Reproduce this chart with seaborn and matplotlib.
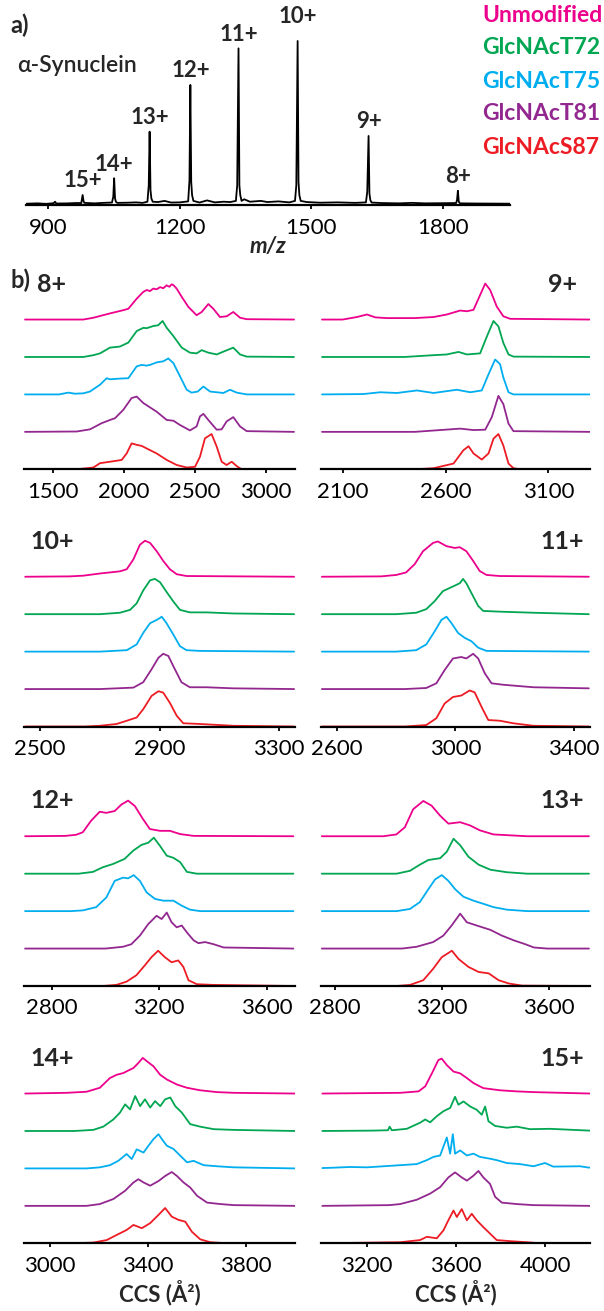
"""
Native MS and CCS distributions of alpha-synuclein and its O-GlcNAc variants
"""

import matplotlib
matplotlib.use("Agg")
import matplotlib.pyplot as plt
import seaborn as sns
import pandas as pd

sns.set_style("ticks")
plt.rcParams["font.family"] = ["Lato", "DejaVu Sans"]

# ---- data -------------------------------------------------------------
variants = ["Unmodified", "GlcNAcT72", "GlcNAcT75", "GlcNAcT81", "GlcNAcS87"]
variant_colors = ["#EC008C", "#00A651", "#00AEEF", "#92278F", "#ED1C24"]

# mass spectrum (m/z, relative intensity)
ms_points = [
    (850, 0.8), (875, 1.0), (895, 0.7), (912, 1.1), (915, 2.0), (918, 0.9),
    (945, 1.0), (962, 1.2), (975, 1.2), (978, 6.1), (980, 2.5), (982, 1.3),
    (1005, 1.0), (1025, 1.3), (1045, 1.5), (1048, 5.0), (1050, 16.3), (1052, 4.0),
    (1054, 2.0), (1057, 1.3), (1080, 1.4), (1100, 1.6), (1115, 1.3), (1126, 2.0),
    (1129, 12.0), (1131, 44.7), (1133, 9.0), (1135, 4.0), (1138, 2.0), (1150, 1.8),
    (1165, 2.5), (1180, 1.5), (1200, 1.6), (1219, 2.2), (1222, 15.0), (1224, 73.2),
    (1226, 14.0), (1228, 6.0), (1231, 2.5), (1245, 1.5), (1262, 2.8), (1280, 1.6),
    (1300, 2.0), (1315, 1.8), (1328, 2.5), (1331, 12.0), (1334, 95.5), (1336, 12.0),
    (1338, 6.0), (1341, 2.5), (1347, 3.5), (1360, 2.0), (1385, 2.5), (1400, 1.8),
    (1425, 2.2), (1450, 1.6), (1463, 2.5), (1466, 12.0), (1469, 100.0), (1471, 14.0),
    (1473, 6.0), (1476, 2.5), (1490, 1.8), (1520, 1.4), (1560, 1.6), (1600, 1.3),
    (1625, 1.6), (1628, 8.0), (1631, 42.1), (1633, 7.0), (1635, 3.0), (1638, 1.5),
    (1660, 1.2), (1700, 1.0), (1730, 1.3), (1760, 1.0), (1800, 1.1), (1831, 1.2),
    (1833, 3.0), (1835, 8.7), (1837, 2.0), (1840, 1.0), (1880, 0.9), (1955, 0.8),
]
charge_labels = ["15+", "14+", "13+", "12+", "11+", "10+", "9+", "8+"]
charge_mz = [978, 1050, 1131, 1224, 1334, 1469, 1631, 1835]
charge_height = [6.1, 16.3, 44.7, 73.2, 95.5, 100.0, 42.1, 8.7]

# CCS distributions (CCS in A^2, relative intensity 0-100), one dict per charge state
ccs_8 = {
    "Unmodified": [(1300, 0), (1712, 0), (1783, 5), (1900, 17), (1994, 26), (2030, 30), (2089, 58),
                   (2136, 77), (2160, 82), (2183, 79), (2206, 86), (2230, 84), (2254, 90), (2277, 87),
                   (2300, 95), (2320, 91), (2336, 98), (2350, 95), (2371, 86), (2407, 63), (2454, 35),
                   (2512, 12), (2548, 21), (2595, 43), (2630, 30), (2677, 7), (2724, 9), (2771, 21),
                   (2819, 5), (2866, 1), (3200, 0)],
    "GlcNAcT72": [(1300, 0), (1712, 0), (1783, 5), (1830, 10), (1900, 26), (1971, 29), (2030, 40),
                  (2089, 72), (2136, 81), (2160, 80), (2206, 86), (2240, 88), (2272, 100), (2290, 88),
                  (2301, 81), (2348, 58), (2407, 26), (2465, 12), (2512, 10), (2548, 19), (2595, 12),
                  (2654, 7), (2696, 14), (2771, 26), (2819, 7), (2866, 1), (3200, 0)],
    "GlcNAcT75": [(1300, 0), (1540, 0), (1606, 5), (1653, 2), (1712, 3), (1759, 8), (1830, 27),
                  (1877, 45), (1900, 42), (1936, 43), (1971, 44), (2030, 45), (2089, 78), (2124, 82),
                  (2159, 80), (2183, 82), (2230, 89), (2277, 92), (2312, 100), (2348, 87), (2395, 50),
                  (2442, 13), (2477, 5), (2520, 8), (2560, 22), (2607, 8), (2701, 4), (2748, 13),
                  (2795, 5), (2866, 0), (3200, 0)],
    "GlcNAcT81": [(1300, 0), (1665, 1), (1759, 7), (1841, 24), (1900, 33), (1936, 38), (1994, 61),
                  (2053, 94), (2089, 98), (2136, 80), (2183, 68), (2230, 56), (2301, 33), (2348, 31),
                  (2395, 19), (2465, 4), (2512, 15), (2536, 43), (2560, 50), (2595, 33), (2654, 6),
                  (2689, 7), (2724, 29), (2771, 41), (2819, 15), (2866, 2), (3200, 0)],
    "GlcNAcS87": [(1300, 0), (1665, 0), (1783, 5), (1830, 17), (1900, 21), (1983, 26), (2018, 44),
                  (2053, 72), (2089, 68), (2124, 65), (2159, 58), (2230, 44), (2301, 26), (2371, 12),
                  (2442, 5), (2501, 7), (2536, 35), (2571, 86), (2618, 98), (2654, 63), (2689, 21),
                  (2724, 12), (2760, 21), (2795, 9), (2830, 0), (3200, 0)],
}
ccs_9 = {
    "Unmodified": [(2000, 0), (2100, 0), (2170, 7), (2218, 14), (2259, 6), (2315, 4), (2450, 4),
                   (2542, 7), (2606, 14), (2671, 25), (2704, 23), (2736, 27), (2768, 68), (2793, 100),
                   (2817, 82), (2849, 36), (2881, 9), (2914, 2), (3300, 0)],
    "GlcNAcT72": [(2000, 0), (2400, 0), (2542, 5), (2606, 7), (2663, 14), (2704, 7), (2768, 10),
                  (2801, 57), (2833, 100), (2857, 85), (2881, 39), (2906, 7), (2930, 1), (3300, 0)],
    "GlcNAcT75": [(2000, 0), (2200, 1), (2283, 6), (2364, 4), (2461, 11), (2542, 4), (2655, 13),
                  (2720, 6), (2776, 11), (2809, 56), (2841, 97), (2865, 84), (2881, 47), (2906, 6),
                  (2930, 0), (3300, 0)],
    "GlcNAcT81": [(2000, 0), (2450, 0), (2574, 5), (2671, 9), (2736, 5), (2793, 6), (2825, 41),
                  (2857, 100), (2881, 77), (2906, 23), (2930, 2), (3300, 0)],
    "GlcNAcS87": [(2000, 0), (2450, 0), (2542, 3), (2639, 16), (2687, 53), (2712, 64), (2736, 44),
                  (2776, 27), (2809, 44), (2833, 85), (2857, 98), (2881, 66), (2906, 16), (2930, 3),
                  (2962, 0), (3300, 0)],
}
ccs_10 = {
    "Unmodified": [(2450, 0), (2600, 1), (2645, 3), (2700, 9), (2767, 15), (2790, 21), (2812, 48),
                   (2834, 89), (2851, 100), (2868, 94), (2890, 71), (2912, 44), (2934, 21), (2957, 7),
                   (2990, 2), (3350, 0)],
    "GlcNAcT72": [(2450, 0), (2700, 0), (2767, 4), (2801, 12), (2823, 30), (2845, 66), (2868, 94),
                  (2884, 98), (2901, 89), (2923, 62), (2946, 35), (2968, 12), (3001, 5), (3057, 5),
                  (3146, 2), (3350, 0)],
    "GlcNAcT75": [(2450, 0), (2700, 0), (2790, 4), (2823, 20), (2845, 52), (2868, 79), (2890, 88),
                  (2900, 93), (2907, 97), (2923, 79), (2946, 47), (2968, 15), (2990, 4), (3035, 2),
                  (3350, 0)],
    "GlcNAcT81": [(2450, 0), (2700, 0), (2812, 4), (2845, 19), (2873, 55), (2896, 87), (2912, 98),
                  (2929, 92), (2951, 55), (2973, 19), (3001, 5), (3057, 5), (3146, 2), (3350, 0)],
    "GlcNAcS87": [(2450, 0), (2650, 0), (2700, 2), (2756, 7), (2790, 16), (2823, 25), (2845, 48),
                  (2873, 85), (2896, 98), (2912, 94), (2934, 66), (2957, 30), (2979, 9), (3035, 7),
                  (3079, 5), (3146, 2), (3350, 0)],
}
ccs_11 = {
    "Unmodified": [(2550, 0), (2750, 1), (2801, 5), (2834, 12), (2863, 35), (2891, 71), (2925, 94),
                   (2941, 98), (2970, 85), (2998, 80), (3015, 82), (3037, 71), (3060, 44), (3082, 16),
                   (3105, 5), (3150, 2), (3450, 0)],
    "GlcNAcT72": [(2550, 0), (2800, 0), (2868, 4), (2902, 14), (2930, 36), (2958, 64), (2992, 77),
                  (3015, 86), (3026, 98), (3037, 86), (3054, 59), (3077, 23), (3094, 9), (3150, 7),
                  (3263, 4), (3450, 0)],
    "GlcNAcT75": [(2550, 0), (2800, 0), (2868, 4), (2902, 20), (2930, 56), (2953, 88), (2970, 97),
                  (2987, 79), (3009, 52), (3032, 38), (3054, 29), (3077, 11), (3105, 2), (3450, 0)],
    "GlcNAcT81": [(2550, 0), (2830, 0), (2902, 3), (2936, 16), (2964, 53), (2992, 85), (3020, 89),
                  (3037, 85), (3060, 98), (3077, 85), (3099, 44), (3122, 16), (3161, 12), (3263, 5),
                  (3450, 2)],
    "GlcNAcS87": [(2550, 0), (2830, 0), (2902, 4), (2936, 23), (2964, 64), (2992, 82), (3020, 86),
                  (3048, 100), (3065, 95), (3088, 55), (3111, 18), (3150, 16), (3195, 9), (3263, 2),
                  (3450, 0)],
}
ccs_12 = {
    "Unmodified": [(2700, 0), (2850, 1), (2890, 4), (2915, 11), (2946, 43), (2978, 68), (3003, 65),
                   (3034, 70), (3059, 88), (3084, 99), (3109, 84), (3140, 47), (3165, 20), (3203, 15),
                   (3240, 15), (3278, 6), (3328, 1), (3700, 0)],
    "GlcNAcT72": [(2700, 0), (2900, 0), (2953, 5), (2990, 18), (3028, 27), (3071, 41), (3103, 64),
                  (3134, 80), (3159, 86), (3180, 100), (3203, 77), (3228, 50), (3253, 44), (3278, 32),
                  (3303, 5), (3340, 0), (3700, 0)],
    "GlcNAcT75": [(2700, 0), (2870, 0), (2915, 2), (2965, 11), (3003, 38), (3034, 84), (3065, 93),
                  (3084, 91), (3105, 100), (3128, 84), (3153, 52), (3184, 34), (3215, 29), (3253, 29),
                  (3284, 15), (3315, 4), (3353, 0), (3700, 0)],
    "GlcNAcT81": [(2700, 0), (3000, 0), (3065, 5), (3096, 12), (3128, 36), (3159, 68), (3190, 91),
                  (3209, 82), (3228, 100), (3246, 73), (3265, 59), (3284, 64), (3303, 45), (3328, 23),
                  (3346, 15), (3371, 18), (3403, 12), (3440, 3), (3700, 0)],
    "GlcNAcS87": [(2700, 0), (2990, 0), (3040, 3), (3078, 12), (3115, 30), (3146, 57), (3171, 80),
                  (3196, 98), (3221, 80), (3246, 66), (3271, 71), (3290, 53), (3309, 16), (3340, 5),
                  (3403, 3), (3700, 0)],
}
ccs_13 = {
    "Unmodified": [(2750, 0), (2980, 0), (3029, 5), (3061, 25), (3092, 75), (3130, 98), (3161, 85),
                   (3193, 57), (3224, 35), (3268, 39), (3305, 30), (3343, 16), (3393, 5), (3443, 3),
                   (3519, 0), (3750, 0)],
    "GlcNAcT72": [(2750, 0), (3030, 0), (3080, 8), (3117, 25), (3149, 38), (3193, 43), (3218, 61),
                  (3243, 97), (3268, 79), (3299, 47), (3337, 25), (3381, 11), (3443, 4), (3519, 0),
                  (3750, 0)],
    "GlcNAcT75": [(2750, 0), (3030, 0), (3080, 6), (3117, 25), (3149, 61), (3174, 88), (3199, 100),
                  (3224, 84), (3249, 61), (3280, 40), (3318, 29), (3356, 20), (3393, 11), (3443, 4),
                  (3519, 0), (3750, 0)],
    "GlcNAcT81": [(2750, 0), (3050, 0), (3105, 5), (3167, 18), (3205, 36), (3236, 64), (3268, 97),
                  (3293, 73), (3330, 64), (3381, 52), (3424, 36), (3468, 23), (3512, 12), (3544, 3),
                  (3594, 0), (3750, 0)],
    "GlcNAcS87": [(2750, 0), (3030, 0), (3080, 3), (3130, 16), (3167, 48), (3199, 80), (3237, 98),
                  (3262, 75), (3299, 53), (3337, 39), (3375, 35), (3412, 16), (3450, 7), (3500, 1),
                  (3750, 0)],
}
ccs_14 = {
    "Unmodified": [(2900, 0), (3068, 2), (3150, 5), (3204, 16), (3245, 43), (3272, 52), (3300, 57),
                   (3320, 64), (3341, 71), (3361, 85), (3379, 99), (3395, 90), (3422, 76), (3450, 52),
                   (3477, 39), (3518, 25), (3559, 16), (3613, 9), (3681, 4), (3750, 2), (4000, 0)],
    "GlcNAcT72": [(2900, 0), (3100, 0), (3177, 3), (3218, 12), (3259, 32), (3286, 51), (3307, 74),
                  (3327, 60), (3348, 97), (3368, 69), (3388, 88), (3409, 65), (3429, 83), (3450, 69),
                  (3470, 88), (3491, 93), (3511, 69), (3538, 51), (3572, 19), (3613, 12), (3668, 5),
                  (3750, 3), (4000, 0)],
    "GlcNAcT75": [(2900, 0), (3150, 0), (3204, 3), (3245, 9), (3279, 21), (3313, 40), (3334, 26),
                  (3354, 53), (3382, 44), (3402, 63), (3422, 81), (3443, 95), (3457, 81), (3477, 63),
                  (3504, 54), (3532, 35), (3559, 17), (3586, 21), (3627, 9), (3681, 6), (3750, 3),
                  (4000, 0)],
    "GlcNAcT81": [(2900, 0), (3150, 0), (3204, 5), (3259, 19), (3307, 42), (3341, 65), (3361, 74),
                  (3382, 65), (3409, 56), (3443, 69), (3470, 83), (3497, 94), (3518, 83), (3545, 65),
                  (3572, 51), (3600, 28), (3641, 9), (3695, 5), (3750, 2), (4000, 0)],
    "GlcNAcS87": [(2900, 0), (3100, 0), (3177, 2), (3232, 9), (3272, 23), (3313, 37), (3341, 51),
                  (3375, 42), (3409, 56), (3443, 79), (3470, 98), (3497, 74), (3525, 65), (3552, 60),
                  (3579, 32), (3613, 11), (3654, 3), (3722, 0), (4000, 0)],
}
ccs_15 = {
    "Unmodified": [(3000, 0), (3350, 2), (3432, 6), (3462, 20), (3492, 56), (3521, 93), (3536, 97),
                   (3559, 79), (3589, 61), (3619, 56), (3649, 43), (3679, 29), (3723, 15), (3798, 9),
                   (3873, 6), (3948, 4), (4200, 0)],
    "GlcNAcT72": [(3000, 0), (3222, 1), (3295, 2), (3302, 12), (3312, 2), (3379, 6), (3439, 23),
                  (3462, 32), (3484, 24), (3514, 41), (3544, 55), (3574, 64), (3596, 95), (3611, 73),
                  (3634, 82), (3664, 68), (3693, 59), (3716, 45), (3731, 68), (3746, 27), (3776, 14),
                  (3828, 9), (3873, 12), (3933, 5), (4022, 6), (4200, 1)],
    "GlcNAcT75": [(3000, 1), (3050, 2), (3125, 4), (3200, 3), (3275, 6), (3350, 9), (3424, 12),
                  (3469, 23), (3499, 32), (3529, 36), (3559, 86), (3574, 41), (3586, 95), (3596, 41),
                  (3619, 50), (3649, 36), (3679, 41), (3708, 32), (3753, 27), (3783, 23), (3828, 15),
                  (3888, 12), (3948, 6), (4000, 15), (4037, 5), (4157, 6), (4200, 2)],
    "GlcNAcT81": [(3000, 0), (3300, 2), (3350, 5), (3424, 17), (3484, 34), (3529, 52), (3566, 79),
                  (3596, 93), (3626, 79), (3649, 70), (3679, 84), (3701, 97), (3723, 79), (3753, 61),
                  (3776, 25), (3806, 9), (3873, 5), (3948, 2), (4200, 0)],
    "GlcNAcS87": [(3000, 0), (3350, 3), (3439, 9), (3469, 18), (3514, 14), (3544, 36), (3566, 64),
                  (3589, 91), (3604, 73), (3626, 95), (3649, 64), (3671, 82), (3693, 64), (3723, 45),
                  (3753, 27), (3783, 9), (3843, 6), (3918, 3), (3977, 0), (4200, 0)],
}

# panel setup: label, data, x range, ticks
panels = [
    ("8+", ccs_8, (1293, 3207), [1500, 2000, 2500, 3000]),
    ("9+", ccs_9, (1995, 3302), [2100, 2600, 3100]),
    ("10+", ccs_10, (2446, 3353), [2500, 2900, 3300]),
    ("11+", ccs_11, (2547, 3454), [2600, 3000, 3400]),
    ("12+", ccs_12, (2696, 3706), [2800, 3200, 3600]),
    ("13+", ccs_13, (2747, 3754), [2800, 3200, 3600]),
    ("14+", ccs_14, (2895, 3999), [3000, 3400, 3800]),
    ("15+", ccs_15, (2994, 4202), [3200, 3600, 4000]),
]

# ---- figure -----------------------------------------------------------
W, H = 604, 1311
fig = plt.figure(figsize=(W / 100, H / 100), dpi=100)


def rect(x0, x1, y_bottom, height):
    """pixel box -> figure fraction"""
    return [x0 / W, 1 - y_bottom / H, (x1 - x0) / W, height / H]


def style_axis(ax, xlim, ticks):
    ax.set_xlim(*xlim)
    ax.set_xticks(ticks)
    ax.set_yticks([])
    for side in ["left", "top", "right"]:
        ax.spines[side].set_visible(False)
    ax.spines["bottom"].set_linewidth(1.6)
    ax.spines["bottom"].set_color("black")
    ax.tick_params(axis="x", direction="out", length=3, width=1.3, pad=6,
                   labelsize=16, colors="black")
    ax.set_ylabel("")
    ax.patch.set_alpha(0)


# a) mass spectrum
ax_ms = fig.add_axes(rect(25.7, 510, 205, 185))
ms = pd.DataFrame(ms_points, columns=["mz", "intensity"])
sns.lineplot(data=ms, x="mz", y="intensity", ax=ax_ms, color="black",
             linewidth=1.3, estimator=None, sort=False)
style_axis(ax_ms, (848, 1954), [900, 1200, 1500, 1800])
ax_ms.set_ylim(0, 112.8)
ax_ms.set_xlabel("m/z", fontsize=16, fontweight="bold", fontstyle="italic", labelpad=-1)

label_offset = {"10+": 13}
for lbl, mz, h in zip(charge_labels, charge_mz, charge_height):
    ax_ms.annotate(lbl, xy=(mz, h), xytext=(0, label_offset.get(lbl, 5.5)),
                   textcoords="offset points", ha="center", va="baseline",
                   fontsize=16, fontweight="bold")

fig.text(20 / W, 1 - 25 / H, "a)", fontsize=17, fontweight="bold", ha="center", va="center")
fig.text(17 / W, 1 - 66 / H, "α-Synuclein", fontsize=16.5, fontweight="semibold",
         ha="left", va="center")

legend_y = [15, 48, 81, 114, 147]
for name, color, y in zip(variants, variant_colors, legend_y):
    fig.text(482 / W, 1 - y / H, name, color=color, fontsize=16.5,
             fontweight="bold", ha="left", va="center")

fig.text(21 / W, 1 - 280 / H, "b)", fontsize=17, fontweight="bold", ha="center", va="center")

# b) stacked CCS distributions
row_bottoms = [469.3, 726.5, 986, 1243.3]
col_x = [(24, 295), (321, 590)]
panel_h = 196
step = 104  # vertical offset between stacked traces

for i, (lbl, data, xlim, ticks) in enumerate(panels):
    row, col = divmod(i, 2)
    ax = fig.add_axes(rect(col_x[col][0], col_x[col][1], row_bottoms[row], panel_h))
    for k, (name, color) in enumerate(zip(variants, variant_colors)):
        df = pd.DataFrame(data[name], columns=["ccs", "intensity"])
        df["intensity"] = df["intensity"] + (len(variants) - 1 - k) * step
        sns.lineplot(data=df, x="ccs", y="intensity", ax=ax, color=color,
                     linewidth=1.3, estimator=None, sort=False)
    style_axis(ax, xlim, ticks)
    ax.set_ylim(0, panel_h / 36 * 100)
    lx = 0.103 if col == 0 else 0.896
    ax.text(lx, 0.945, lbl, transform=ax.transAxes, ha="center", va="center",
            fontsize=18, fontweight="bold")
    if row == 3:
        ax.set_xlabel("CCS (Å²)", fontsize=16, fontweight="bold", labelpad=3)
    else:
        ax.set_xlabel("")

fig.savefig("out.png", dpi=100)
